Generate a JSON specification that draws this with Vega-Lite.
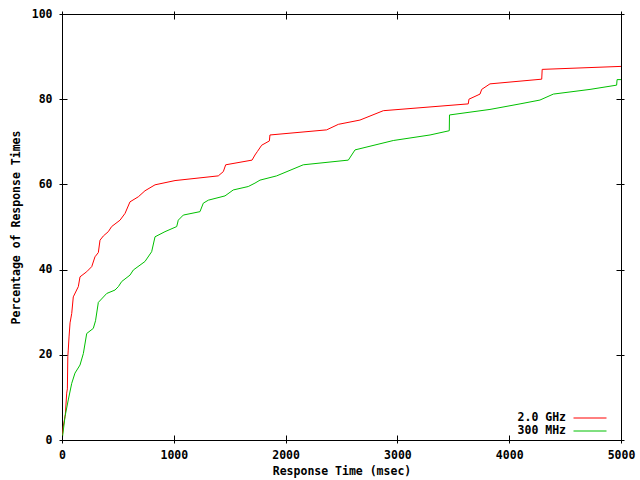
{
  "$schema": "https://vega.github.io/schema/vega-lite/v6.json",
  "width": 559,
  "height": 426,
  "autosize": {"type": "none"},
  "padding": {"left": 62, "top": 14, "right": 19, "bottom": 40},
  "background": "white",
  "config": {
    "view": {"stroke": "black", "strokeWidth": 1},
    "font": "DejaVu Sans Mono",
    "axis": {
      "grid": false,
      "domain": false,
      "tickColor": "black",
      "labelFont": "DejaVu Sans Mono",
      "labelFontWeight": "bold",
      "labelFontSize": 11.5,
      "labelColor": "black",
      "titleFont": "DejaVu Sans Mono",
      "titleFontWeight": "bold",
      "titleFontSize": 11.5,
      "titleColor": "black"
    },
    "legend": {
      "labelFont": "DejaVu Sans Mono",
      "labelFontWeight": "bold",
      "labelFontSize": 11.5,
      "labelColor": "black"
    }
  },
  "data": {
    "values": [
      {"series": "2.0 GHz", "t": 0, "p": 0},
      {"series": "2.0 GHz", "t": 10, "p": 3},
      {"series": "2.0 GHz", "t": 30, "p": 6},
      {"series": "2.0 GHz", "t": 42, "p": 11},
      {"series": "2.0 GHz", "t": 48, "p": 12},
      {"series": "2.0 GHz", "t": 52, "p": 19.6},
      {"series": "2.0 GHz", "t": 56, "p": 21.1},
      {"series": "2.0 GHz", "t": 63, "p": 24.2},
      {"series": "2.0 GHz", "t": 72, "p": 27.5},
      {"series": "2.0 GHz", "t": 87, "p": 29.7},
      {"series": "2.0 GHz", "t": 101, "p": 33.6},
      {"series": "2.0 GHz", "t": 146, "p": 36},
      {"series": "2.0 GHz", "t": 161, "p": 38.3},
      {"series": "2.0 GHz", "t": 221, "p": 39.5},
      {"series": "2.0 GHz", "t": 266, "p": 40.7},
      {"series": "2.0 GHz", "t": 295, "p": 43},
      {"series": "2.0 GHz", "t": 325, "p": 44},
      {"series": "2.0 GHz", "t": 340, "p": 46.9},
      {"series": "2.0 GHz", "t": 370, "p": 47.9},
      {"series": "2.0 GHz", "t": 414, "p": 48.9},
      {"series": "2.0 GHz", "t": 444, "p": 50.1},
      {"series": "2.0 GHz", "t": 519, "p": 51.6},
      {"series": "2.0 GHz", "t": 564, "p": 53.2},
      {"series": "2.0 GHz", "t": 608, "p": 55.9},
      {"series": "2.0 GHz", "t": 683, "p": 57.1},
      {"series": "2.0 GHz", "t": 742, "p": 58.5},
      {"series": "2.0 GHz", "t": 832, "p": 59.9},
      {"series": "2.0 GHz", "t": 1011, "p": 60.9},
      {"series": "2.0 GHz", "t": 1398, "p": 62.0},
      {"series": "2.0 GHz", "t": 1443, "p": 63.0},
      {"series": "2.0 GHz", "t": 1464, "p": 64.6},
      {"series": "2.0 GHz", "t": 1700, "p": 65.7},
      {"series": "2.0 GHz", "t": 1726, "p": 66.9},
      {"series": "2.0 GHz", "t": 1747, "p": 67.7},
      {"series": "2.0 GHz", "t": 1786, "p": 69.2},
      {"series": "2.0 GHz", "t": 1855, "p": 70.2},
      {"series": "2.0 GHz", "t": 1860, "p": 71.6},
      {"series": "2.0 GHz", "t": 2367, "p": 72.8},
      {"series": "2.0 GHz", "t": 2472, "p": 74.1},
      {"series": "2.0 GHz", "t": 2665, "p": 75.1},
      {"series": "2.0 GHz", "t": 2874, "p": 77.3},
      {"series": "2.0 GHz", "t": 3634, "p": 78.9},
      {"series": "2.0 GHz", "t": 3640, "p": 80.0},
      {"series": "2.0 GHz", "t": 3739, "p": 81.2},
      {"series": "2.0 GHz", "t": 3754, "p": 82.3},
      {"series": "2.0 GHz", "t": 3828, "p": 83.6},
      {"series": "2.0 GHz", "t": 4291, "p": 84.7},
      {"series": "2.0 GHz", "t": 4295, "p": 87.0},
      {"series": "2.0 GHz", "t": 5000, "p": 87.7},
      {"series": "300 MHz", "t": 0, "p": 0},
      {"series": "300 MHz", "t": 5, "p": 0.8},
      {"series": "300 MHz", "t": 27, "p": 5.5},
      {"series": "300 MHz", "t": 56, "p": 9.4},
      {"series": "300 MHz", "t": 87, "p": 13.3},
      {"series": "300 MHz", "t": 116, "p": 15.7},
      {"series": "300 MHz", "t": 161, "p": 17.6},
      {"series": "300 MHz", "t": 191, "p": 20.3},
      {"series": "300 MHz", "t": 221, "p": 25},
      {"series": "300 MHz", "t": 280, "p": 26.2},
      {"series": "300 MHz", "t": 300, "p": 28},
      {"series": "300 MHz", "t": 325, "p": 32.3},
      {"series": "300 MHz", "t": 400, "p": 34.4},
      {"series": "300 MHz", "t": 474, "p": 35.2},
      {"series": "300 MHz", "t": 504, "p": 36},
      {"series": "300 MHz", "t": 534, "p": 37.2},
      {"series": "300 MHz", "t": 608, "p": 38.7},
      {"series": "300 MHz", "t": 638, "p": 39.9},
      {"series": "300 MHz", "t": 742, "p": 41.9},
      {"series": "300 MHz", "t": 802, "p": 44.2},
      {"series": "300 MHz", "t": 832, "p": 47.7},
      {"series": "300 MHz", "t": 921, "p": 48.9},
      {"series": "300 MHz", "t": 1026, "p": 50.1},
      {"series": "300 MHz", "t": 1040, "p": 51.6},
      {"series": "300 MHz", "t": 1085, "p": 52.8},
      {"series": "300 MHz", "t": 1234, "p": 53.6},
      {"series": "300 MHz", "t": 1264, "p": 55.6},
      {"series": "300 MHz", "t": 1309, "p": 56.3},
      {"series": "300 MHz", "t": 1458, "p": 57.3},
      {"series": "300 MHz", "t": 1532, "p": 58.7},
      {"series": "300 MHz", "t": 1666, "p": 59.5},
      {"series": "300 MHz", "t": 1726, "p": 60.3},
      {"series": "300 MHz", "t": 1771, "p": 61.0},
      {"series": "300 MHz", "t": 1920, "p": 62.0},
      {"series": "300 MHz", "t": 2158, "p": 64.6},
      {"series": "300 MHz", "t": 2561, "p": 65.7},
      {"series": "300 MHz", "t": 2621, "p": 68.1},
      {"series": "300 MHz", "t": 2963, "p": 70.3},
      {"series": "300 MHz", "t": 3292, "p": 71.6},
      {"series": "300 MHz", "t": 3464, "p": 72.6},
      {"series": "300 MHz", "t": 3466, "p": 76.3},
      {"series": "300 MHz", "t": 3828, "p": 77.6},
      {"series": "300 MHz", "t": 4097, "p": 78.9},
      {"series": "300 MHz", "t": 4275, "p": 79.8},
      {"series": "300 MHz", "t": 4395, "p": 81.2},
      {"series": "300 MHz", "t": 4723, "p": 82.3},
      {"series": "300 MHz", "t": 4961, "p": 83.3},
      {"series": "300 MHz", "t": 4965, "p": 84.6},
      {"series": "300 MHz", "t": 5000, "p": 84.6}
    ]
  },
  "layer": [
    {
      "mark": {"type": "line", "strokeWidth": 1, "clip": true},
      "encoding": {
        "x": {
          "field": "t", "type": "quantitative",
          "scale": {"domain": [0, 5000], "nice": false, "zero": false},
          "axis": {"values": [0, 1000, 2000, 3000, 4000, 5000], "format": "d", "title": "Response Time (msec)", "ticks": false, "tickSize": 0, "labelPadding": 9, "titlePadding": 5, "labelFlush": false}
        },
        "y": {
          "field": "p", "type": "quantitative",
          "scale": {"domain": [0, 100], "nice": false},
          "axis": {"values": [0, 20, 40, 60, 80, 100], "format": "d", "title": "Percentage of Response Times", "ticks": false, "tickSize": 0, "labelPadding": 10, "titlePadding": 10, "labelFlush": false}
        },
        "color": {
          "field": "series", "type": "nominal",
          "scale": {"domain": ["2.0 GHz", "300 MHz"], "range": ["#ff0000", "#00c000"]},
          "legend": {
            "title": null,
            "orient": "none",
            "legendX": 522,
            "legendY": 398,
            "padding": 0,
            "symbolType": "M-3,0H3",
            "symbolSize": 121,
            "symbolStrokeWidth": 1,
            "labelAlign": "right",
            "labelOffset": -30,
            "rowPadding": 1
          }
        },
        "detail": {"field": "series"}
      }
    },
    {
      "mark": {"type": "line", "opacity": 0},
      "encoding": {
        "x": {
          "field": "t", "type": "quantitative",
          "axis": {"orient": "top", "offset": -5, "zindex": 1, "ticks": true, "tickSize": 8, "tickWidth": 1, "tickColor": "black", "values": [0, 1000, 2000, 3000, 4000, 5000], "labels": false, "title": null}
        },
        "y": {
          "field": "p", "type": "quantitative",
          "axis": {"orient": "right", "offset": -5, "zindex": 1, "ticks": true, "tickSize": 8, "tickWidth": 1, "tickColor": "black", "values": [0, 20, 40, 60, 80, 100], "labels": false, "title": null}
        },
        "detail": {"field": "series"}
      }
    },
    {
      "mark": {"type": "line", "opacity": 0},
      "encoding": {
        "x": {
          "field": "t", "type": "quantitative",
          "axis": {"orient": "bottom", "offset": -5, "zindex": 1, "ticks": true, "tickSize": 8, "tickWidth": 1, "tickColor": "black", "values": [0, 1000, 2000, 3000, 4000, 5000], "labels": false, "title": null}
        },
        "y": {
          "field": "p", "type": "quantitative",
          "axis": {"orient": "left", "offset": -5, "zindex": 1, "ticks": true, "tickSize": 8, "tickWidth": 1, "tickColor": "black", "values": [0, 20, 40, 60, 80, 100], "labels": false, "title": null}
        },
        "detail": {"field": "series"}
      }
    }
  ],
  "resolve": {"axis": {"x": "independent", "y": "independent"}}
}
